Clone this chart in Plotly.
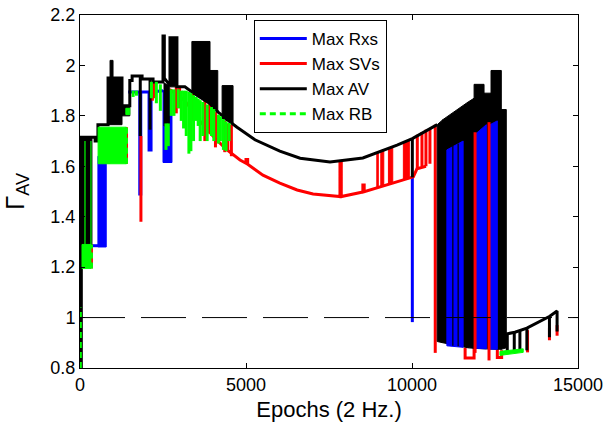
import plotly.graph_objects as go

# ---------------- data ----------------
x_tick_vals = [0, 5000, 10000, 15000]
x_tick_text = ["0", "5000", "10000", "15000"]
y_tick_vals = [0.8, 1.0, 1.2, 1.4, 1.6, 1.8, 2.0, 2.2]
y_tick_text = ["0.8", "1", "1.2", "1.4", "1.6", "1.8", "2", "2.2"]
ref_x = [0, 15000]
ref_y = [1.0, 1.0]

# Max Rxs (blue)
blue_path_x = [360, 545, None, 1450, 1800, 1800, 1830, 1830, 2080, 2080, 2140, 2140, 2500, None, 10010, 10010]
blue_path_y = [1.285, 1.285, None, 1.895, 1.895, 1.49, 1.49, 1.895, 1.895, 1.665, 1.665, 1.895, 1.90, None, 1.556, 0.982]
blue_blk_x0 = [540, 2500, 11050, 11930, 12350]
blue_blk_x1 = [790, 2770, 11540, 12240, 12570]
blue_blk_lo0 = [1.28, 1.615, 0.888, 0.878, 0.875]
blue_blk_lo1 = [1.28, 1.615, 0.882, 0.876, 0.874]
blue_blk_hi0 = [1.64, 1.90, 1.665, 1.73, 1.765]
blue_blk_hi1 = [1.64, 1.90, 1.70, 1.765, 1.78]

# Max SVs (red)
red_path_x = [10, 10, None, 345, 345, None, 1400, 1400, None, 1835, 1835, None,
              2700, 3160, 3610, 4070, 4430, 4820, 5000, 5000, 5050, 5050, 5270, 5510, 6020, 6540,
              7020, 7530, 7830, 7830, 7870, 7870, 8520, 8520, 8560, 8560, 9040, 9550, 9940, 10040,
              10150, 10420, None,
              11600, 11600, 11870, 11870, None, 12570, 12570, 12700, 12700]
red_path_y = [0.80, 1.04, None, 1.195, 1.29, None, 1.61, 1.755, None, 1.72, 1.38, None,
              1.905, 1.86, 1.78, 1.71, 1.665, 1.625, 1.612, 1.627, 1.627, 1.608, 1.587, 1.565, 1.533, 1.506,
              1.49, 1.482, 1.48, 1.617, 1.617, 1.48, 1.498, 1.526, 1.526, 1.499, 1.518, 1.538, 1.553, 1.558,
              1.59, 1.60, None,
              0.88, 0.84, 0.84, 0.88, None, 0.875, 0.842, 0.842, 0.87]
red_spk_x = [650, 870, 2180, 2240, 2900, 3000, 3400, 3760, 3900, 4080, 4360, 4450, 4560,
             10160, 10300, 10420, 10540, 10700, 11900, 12320, 13480, 14140, 14370]
red_spk_lo = [1.63, 1.61, 1.86, 1.87, 1.81, 1.83, 1.78, 1.70, 1.73, 1.675, 1.656, 1.66, 1.64,
              1.59, 1.60, 1.60, 1.61, 0.86, 0.86, 0.83, 0.862, 0.91, 0.928]
red_spk_hi = [1.68, 1.70, 1.935, 1.935, 1.915, 1.912, 1.89, 1.86, 1.848, 1.815, 1.78, 1.77, 1.765,
              1.725, 1.735, 1.745, 1.75, 1.765, 1.735, 1.775, 0.95, 0.96, 0.97]
red_blk_x0 = [8940, 9060, 9290, 9740]
red_blk_x1 = [8985, 9150, 9420, 9920]
red_blk_lo0 = [1.515, 1.52, 1.527, 1.545]
red_blk_lo1 = [1.516, 1.523, 1.532, 1.552]
red_blk_hi0 = [1.655, 1.66, 1.668, 1.69]
red_blk_hi1 = [1.657, 1.665, 1.675, 1.70]

# Max AV (black)
black_path_x = [40, 40, 455, 455, 540, 540, 845, 845, 1265, 1265, 1500, 1500, 1570, 1570, 1870, 1870,
                2200, 2200, 2500, 2500, 2540, 2540, 2710, 2710, 2920, 2920, 3160, 3370, 3900, 4160,
                4430, 4730, 5270, 6020, 6630, 7530, 8520, 9550, 10010, 10540, 10760, None,
                12840, 13100, 13460, 13850, 14150, 14370, 14370]
black_path_y = [0.80, 1.715, 1.715, 1.70, 1.70, 1.765, 1.765, 1.95, 1.95, 1.84, 1.84, 1.94, 1.94, 1.958, 1.958, 1.946,
                1.946, 1.934, 1.934, 2.117, 2.117, 1.95, 1.92, 2.11, 2.11, 1.915, 1.915, 1.895, 1.85, 1.815,
                1.785, 1.755, 1.705, 1.66, 1.632, 1.617, 1.633, 1.684, 1.71, 1.75, 1.765, None,
                0.935, 0.942, 0.958, 0.985, 1.005, 1.026, 0.945]
black_blk_x0 = [0, 845, 905, 1265, 2530, 2710, 3370, 3916, 4280, 10760, 10930, 11690, 11870, 12170, 12380, 12690]
black_blk_x1 = [360, 1265, 995, 1500, 2690, 2920, 3916, 4150, 4610, 10930, 11690, 11870, 12170, 12380, 12690, 12840]
black_blk_lo0 = [1.29, 1.765, 1.95, 1.80, 1.76, 1.915, 1.895, 1.85, 1.79, 0.905, 0.90, 0.88, 0.878, 0.876, 0.875, 0.874]
black_blk_lo1 = [1.29, 1.765, 1.95, 1.80, 1.76, 1.915, 1.85, 1.818, 1.77, 0.90, 0.88, 0.878, 0.876, 0.875, 0.874, 0.88]
black_blk_hi0 = [1.715, 1.95, 2.02, 1.84, 1.93, 2.11, 2.095, 1.98, 1.92, 1.765, 1.785, 1.855, 1.925, 1.89, 1.98, 1.825]
black_blk_hi1 = [1.715, 1.95, 2.02, 1.84, 1.92, 2.11, 2.095, 1.98, 1.92, 1.785, 1.855, 1.87, 1.925, 1.89, 1.98, 1.825]
black_spk_x = [1815, 2110, 10010, 12870, 13080, 13250, 13460, 14140]
black_spk_lo = [1.72, 1.745, 1.556, 0.865, 0.865, 0.868, 0.87, 0.922]
black_spk_hi = [1.958, 1.946, 1.71, 0.935, 0.942, 0.948, 0.958, 1.005]
black_thin_x = [11230, 11390]
black_thin_lo = [0.888, 0.886]
black_thin_hi = [1.68, 1.69]

# Max RB (green)
green_path_x = [10, 10, None, 345, 345, None, 1400, 1400]
green_path_y = [0.80, 1.04, None, 1.195, 1.29, None, 1.61, 1.755]
green_blk_x0 = [60, 545, 1380, 12650]
green_blk_x1 = [330, 1400, 1500, 13350]
green_blk_lo0 = [1.195, 1.61, 1.805, 0.85]
green_blk_lo1 = [1.195, 1.61, 1.805, 0.862]
green_blk_hi0 = [1.29, 1.755, 1.83, 0.866]
green_blk_hi1 = [1.29, 1.755, 1.83, 0.876]
green_spk_x = [1600, 1700, 2150, 2300, 2420, 2590, 2660, 2750, 2830, 2960, 3050, 3120, 3200, 3280, 3340,
               3420, 3500, 3560, 3620, 3700, 3830, 3960, 4030, 4170, 4230, 4320, 4400, 4490]
green_spk_lo = [1.875, 1.88, 1.87, 1.85, 1.82, 1.665, 1.68, 1.80, 1.80, 1.83, 1.78, 1.75, 1.72, 1.65, 1.66,
                1.70, 1.78, 1.76, 1.70, 1.72, 1.70, 1.72, 1.70, 1.69, 1.70, 1.665, 1.66, 1.70]
green_spk_hi = [1.90, 1.90, 1.935, 1.935, 1.925, 1.77, 1.77, 1.905, 1.905, 1.905, 1.90, 1.90, 1.90, 1.895, 1.89,
                1.882, 1.875, 1.868, 1.862, 1.855, 1.845, 1.835, 1.827, 1.805, 1.798, 1.787, 1.778, 1.772]
green_thin_x = [150, 330]
green_thin_lo = [1.29, 1.29]
green_thin_hi = [1.70, 1.70]

BLUE, RED, BLACK, GREEN = "#0000ff", "#ff0000", "#000000", "#00ff00"
FONT = "Liberation Sans, Arial, sans-serif"


def vsegs(xs, los, his, keep=lambda x: True):
    X, Y = [], []
    for x, lo, hi in zip(xs, los, his):
        if keep(x):
            X += [x, x, None]
            Y += [lo, hi, None]
    return X, Y


def polys(x0s, x1s, lo0s, lo1s, hi0s, hi1s, keep=lambda x: True):
    X, Y = [], []
    for a, b, l0, l1, h0, h1 in zip(x0s, x1s, lo0s, lo1s, hi0s, hi1s):
        if keep(a):
            X += [a, b, b, a, a, None]
            Y += [l0, l1, h1, h0, l0, None]
    return X, Y


fig = go.Figure()


def line(x, y, color, width=3, name=None, dash=None, legend=False):
    fig.add_trace(go.Scatter(x=x, y=y, mode="lines", name=name, showlegend=legend,
                             line=dict(color=color, width=width, dash=dash),
                             connectgaps=False, hoverinfo="skip"))


def fill(x, y, color):
    fig.add_trace(go.Scatter(x=x, y=y, mode="lines", fill="toself", fillcolor=color,
                             line=dict(color=color, width=1), showlegend=False,
                             connectgaps=False, hoverinfo="skip"))


late = lambda x: 10750 < x < 12850
early = lambda x: not late(x)

# blue (under everything else)
line(blue_path_x, blue_path_y, BLUE, name="Max Rxs", legend=True)
fill(*polys(blue_blk_x0, blue_blk_x1, blue_blk_lo0, blue_blk_lo1, blue_blk_hi0, blue_blk_hi1,
            keep=lambda x: x < 10000), BLUE)
# red
line(red_path_x, red_path_y, RED, name="Max SVs", legend=True)
fill(*polys(red_blk_x0, red_blk_x1, red_blk_lo0, red_blk_lo1, red_blk_hi0, red_blk_hi1), RED)
line(*vsegs(red_spk_x, red_spk_lo, red_spk_hi, keep=early), RED)
# black
fill(*polys(black_blk_x0, black_blk_x1, black_blk_lo0, black_blk_lo1, black_blk_hi0, black_blk_hi1), BLACK)
line(black_path_x, black_path_y, BLACK, name="Max AV", legend=True)
line(*vsegs(black_spk_x, black_spk_lo, black_spk_hi), BLACK)
# dense right-hand region: blue and red stripes showing between black ones
fill(*polys(blue_blk_x0, blue_blk_x1, blue_blk_lo0, blue_blk_lo1, blue_blk_hi0, blue_blk_hi1,
            keep=lambda x: x > 10000), BLUE)
line(*vsegs(red_spk_x, red_spk_lo, red_spk_hi, keep=late), RED)
line(*vsegs(black_thin_x, black_thin_lo, black_thin_hi), BLACK, width=1.2)
# green
fill(*polys(green_blk_x0, green_blk_x1, green_blk_lo0, green_blk_lo1, green_blk_hi0, green_blk_hi1), GREEN)
line(*vsegs(green_spk_x, green_spk_lo, green_spk_hi), GREEN)
line(*vsegs(green_thin_x, green_thin_lo, green_thin_hi), GREEN, width=1.2)
line(green_path_x, green_path_y, GREEN, name="Max RB", dash="6px,4px", legend=True)
# reference level
line(ref_x, ref_y, BLACK, width=1, dash="45px,16px")

axis_common = dict(showline=True, linecolor="black", linewidth=1, mirror="ticks",
                   ticks="inside", ticklen=5, tickcolor="black", showgrid=False, zeroline=False,
                   automargin=False, ticklabeloverflow="allow",
                   tickfont=dict(family=FONT, size=18, color="black"))

fig.update_layout(
    width=606, height=429,
    margin=dict(l=80, r=28, t=15, b=61, autoexpand=False),
    paper_bgcolor="white", plot_bgcolor="white",
    font=dict(family=FONT, color="black"),
    xaxis=dict(range=[0, 15000], tickmode="array", tickvals=x_tick_vals, ticktext=x_tick_text,
               title=dict(text="Epochs (2 Hz.)", font=dict(family=FONT, size=22), standoff=8),
               **axis_common),
    yaxis=dict(range=[0.8, 2.2], tickmode="array", tickvals=y_tick_vals, ticktext=y_tick_text,
               title=dict(text="Γ<sub>AV</sub>", font=dict(family=FONT, size=26), standoff=32),
               **axis_common),
    legend=dict(x=0.349, y=0.986, xanchor="left", yanchor="top", bgcolor="white",
                bordercolor="black", borderwidth=1, font=dict(family=FONT, size=17),
                itemwidth=47, tracegroupgap=0),
    showlegend=True,
)

# remove the default 8px page margin so the 606x429 figure fills the window exactly
fig.write_html("out.html", config={"displayModeBar": False},
               post_script="document.body.style.margin='0px';")
